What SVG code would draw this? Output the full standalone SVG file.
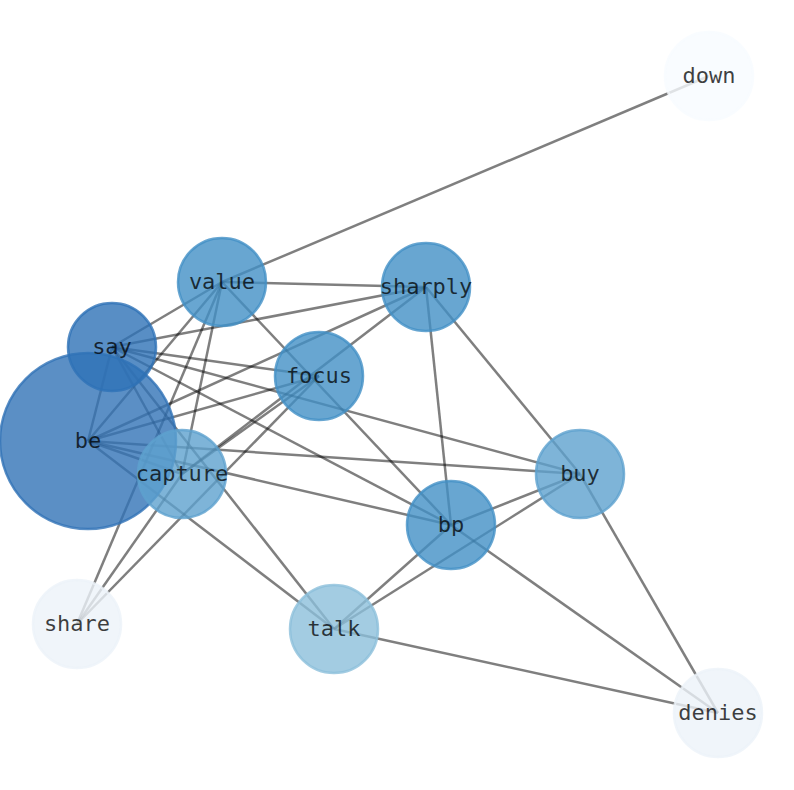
<svg xmlns="http://www.w3.org/2000/svg" width="794" height="790" viewBox="0 0 794 790">
<style>
.e{stroke:#000;stroke-opacity:0.5;stroke-width:2.5;fill:none}
.n{fill-opacity:0.8;stroke-opacity:0.8;stroke-width:2.5}
.t{font-family:"DejaVu Sans Mono","Liberation Mono",monospace;font-size:22px;fill:#000;fill-opacity:0.75;text-anchor:middle}
</style>
<rect width="794" height="790" fill="#fff"/>
<g id="edges">
<line class="e" x1="222" y1="282" x2="709" y2="76"/>
<line class="e" x1="222" y1="282" x2="426" y2="287"/>
<line class="e" x1="222" y1="282" x2="112" y2="347"/>
<line class="e" x1="222" y1="282" x2="88" y2="441"/>
<line class="e" x1="222" y1="282" x2="182" y2="474"/>
<line class="e" x1="222" y1="282" x2="77" y2="624"/>
<line class="e" x1="222" y1="282" x2="451" y2="525"/>
<line class="e" x1="426" y1="287" x2="112" y2="347"/>
<line class="e" x1="426" y1="287" x2="88" y2="441"/>
<line class="e" x1="426" y1="287" x2="182" y2="474"/>
<line class="e" x1="426" y1="287" x2="451" y2="525"/>
<line class="e" x1="426" y1="287" x2="580" y2="474"/>
<line class="e" x1="112" y1="347" x2="319" y2="376"/>
<line class="e" x1="112" y1="347" x2="580" y2="474"/>
<line class="e" x1="112" y1="347" x2="451" y2="525"/>
<line class="e" x1="112" y1="347" x2="88" y2="441"/>
<line class="e" x1="112" y1="347" x2="182" y2="474"/>
<line class="e" x1="112" y1="347" x2="334" y2="629"/>
<line class="e" x1="88" y1="441" x2="319" y2="376"/>
<line class="e" x1="88" y1="441" x2="182" y2="474"/>
<line class="e" x1="88" y1="441" x2="580" y2="474"/>
<line class="e" x1="88" y1="441" x2="451" y2="525"/>
<line class="e" x1="88" y1="441" x2="334" y2="629"/>
<line class="e" x1="182" y1="474" x2="77" y2="624"/>
<line class="e" x1="182" y1="474" x2="319" y2="376"/>
<line class="e" x1="319" y1="376" x2="77" y2="624"/>
<line class="e" x1="580" y1="474" x2="451" y2="525"/>
<line class="e" x1="580" y1="474" x2="334" y2="629"/>
<line class="e" x1="580" y1="474" x2="718" y2="713"/>
<line class="e" x1="451" y1="525" x2="334" y2="629"/>
<line class="e" x1="451" y1="525" x2="718" y2="713"/>
<line class="e" x1="334" y1="629" x2="718" y2="713"/>
</g>
<g id="node-down"><circle class="n" cx="709" cy="76" r="44" fill="#f7fbff" stroke="#f7fbff"/><text class="t" x="709" y="83">down</text></g>
<g id="node-value"><circle class="n" cx="222" cy="282" r="44" fill="#4290c6" stroke="#4290c6"/><text class="t" x="222" y="289">value</text></g>
<g id="node-sharply"><circle class="n" cx="426" cy="287" r="44" fill="#4290c6" stroke="#4290c6"/><text class="t" x="426" y="294">sharply</text></g>
<g id="node-focus"><circle class="n" cx="319" cy="376" r="44" fill="#4290c6" stroke="#4290c6"/><text class="t" x="319" y="383">focus</text></g>
<g id="node-be"><circle class="n" cx="88" cy="441" r="88" fill="#3273b6" stroke="#3273b6"/><text class="t" x="88" y="448">be</text></g>
<g id="node-say"><circle class="n" cx="112" cy="347" r="44" fill="#2e72b6" stroke="#2e72b6"/><text class="t" x="112" y="354">say</text></g>
<g id="node-capture"><circle class="n" cx="182" cy="474" r="44" fill="#5ea1ce" stroke="#5ea1ce"/><text class="t" x="182" y="481">capture</text></g>
<g id="node-buy"><circle class="n" cx="580" cy="474" r="44" fill="#5ea1ce" stroke="#5ea1ce"/><text class="t" x="580" y="481">buy</text></g>
<g id="node-bp"><circle class="n" cx="451" cy="525" r="44" fill="#4290c6" stroke="#4290c6"/><text class="t" x="451" y="532">bp</text></g>
<g id="node-share"><circle class="n" cx="77" cy="624" r="44" fill="#ecf2f9" stroke="#ecf2f9"/><text class="t" x="77" y="631">share</text></g>
<g id="node-talk"><circle class="n" cx="334" cy="629" r="44" fill="#8cbfdb" stroke="#8cbfdb"/><text class="t" x="334" y="636">talk</text></g>
<g id="node-denies"><circle class="n" cx="718" cy="713" r="44" fill="#ecf2f9" stroke="#ecf2f9"/><text class="t" x="718" y="720">denies</text></g>
</svg>
